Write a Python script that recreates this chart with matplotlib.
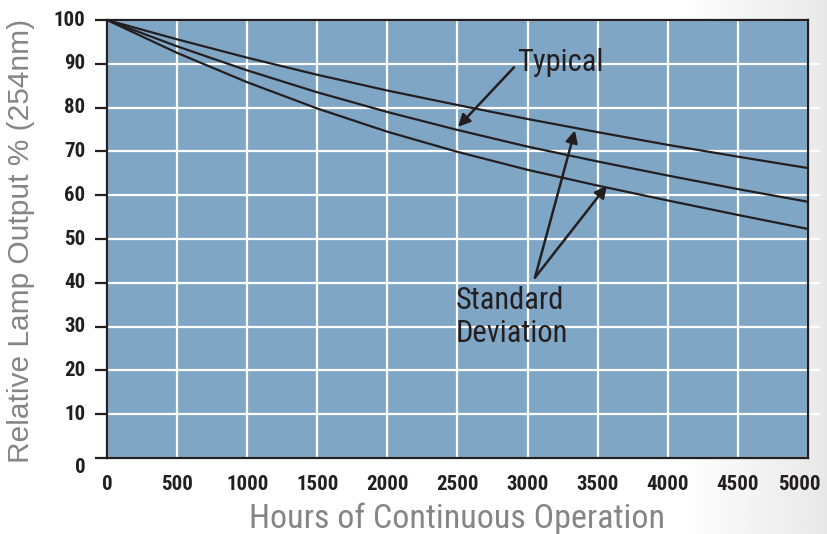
import numpy as np
import matplotlib.pyplot as plt
import matplotlib.transforms as mtransforms

# hours of operation and relative output (%)
hours = [0, 500, 1000, 1500, 2000, 2500, 3000, 3500, 4000, 4500, 5000]
upper = [100, 95.6, 91.4, 87.5, 83.9, 80.6, 77.4, 74.4, 71.5, 68.8, 66.2]
typical = [100, 94.0, 88.5, 83.5, 79.0, 74.9, 71.1, 67.7, 64.5, 61.4, 58.5]
lower = [100, 92.5, 85.8, 79.8, 74.5, 69.9, 65.8, 62.2, 58.8, 55.5, 52.3]

x_ticks = [0, 500, 1000, 1500, 2000, 2500, 3000, 3500, 4000, 4500, 5000]
y_ticks = [0, 10, 20, 30, 40, 50, 60, 70, 80, 90, 100]

narrow = ['Liberation Sans Narrow', 'Roboto Condensed', 'DejaVu Sans']
ink = '#231f20'

fig = plt.figure(figsize=(8.28, 5.34), dpi=100)

# light grey shading at the right edge of the page
bg = fig.add_axes([0, 0, 1, 1], zorder=-10)
xs = np.linspace(0, 1, 300)
grad = np.tile(1.0 - 0.09 * np.clip((xs - 0.82) / 0.18, 0, 1), (2, 1))
bg.imshow(grad, aspect='auto', cmap='gray', vmin=0, vmax=1, extent=[0, 1, 0, 1])
bg.axis('off')

ax = fig.add_axes([0.1292, 0.1423, 0.8466, 0.8202])
ax.set_facecolor('#80a6c6')

for ys in (upper, typical, lower):
    ax.plot(hours, ys, color=ink, lw=1.6, zorder=3)

ax.set_xlim(0, 5000)
ax.set_ylim(0, 100)
ax.set_xticks(x_ticks)
ax.set_yticks(y_ticks)
ax.grid(True, color='white', lw=1.6, zorder=1)
ax.set_axisbelow(True)

for s in ax.spines.values():
    s.set_color(ink)
    s.set_linewidth(1.6)

ax.tick_params(axis='y', direction='out', length=8.6, width=1.6, color=ink,
               pad=7, labelsize=15)
ax.tick_params(axis='x', length=0, pad=12, labelsize=15)
for lab in ax.get_xticklabels() + ax.get_yticklabels():
    lab.set_fontweight('bold')
    lab.set_family(narrow)
    lab.set_color(ink)
for lab in ax.get_yticklabels():
    lab.set_verticalalignment('top' if lab.get_text() == '0' else 'center')
last = ax.get_xticklabels()[-1]
last.set_transform(last.get_transform() +
                   mtransforms.ScaledTranslation(-6 / 72, 0, fig.dpi_scale_trans))

# short white stubs of the grid poking out past the right edge
for v in y_ticks[1:-1]:
    ax.plot([5000, 5080], [v, v], color='white', lw=1.6, clip_on=False, zorder=0)

ax.set_ylabel('Relative Lamp Output % (254nm)', fontsize=21.5, color='#858585',
              family=['Liberation Sans', 'DejaVu Sans'])
ax.yaxis.set_label_coords(-0.102, 0.495)
ax.set_xlabel('Hours of Continuous Operation', fontsize=24.5, color='#858585',
              family=narrow, va='top')
ax.xaxis.set_label_coords(0.499, -0.102)

arrow = dict(arrowstyle='-|>', color=ink, lw=1.8, mutation_scale=18,
             shrinkA=0, shrinkB=0)
ax.annotate('', xy=(2504, 75.6), xytext=(2903, 89.2), arrowprops=arrow, zorder=4)
ax.text(2925, 90.2, 'Typical', fontsize=22, color=ink, family=narrow,
        ha='left', va='center')

ax.annotate('', xy=(3338, 74.8), xytext=(3053, 41.2), arrowprops=arrow, zorder=4)
ax.annotate('', xy=(3566, 62.2), xytext=(3053, 41.2), arrowprops=arrow, zorder=4)
ax.text(2490, 32.2, 'Standard\nDeviation', fontsize=22, color=ink, family=narrow,
        ha='left', va='center', linespacing=1.15)

fig.savefig('out.png', dpi=100)
